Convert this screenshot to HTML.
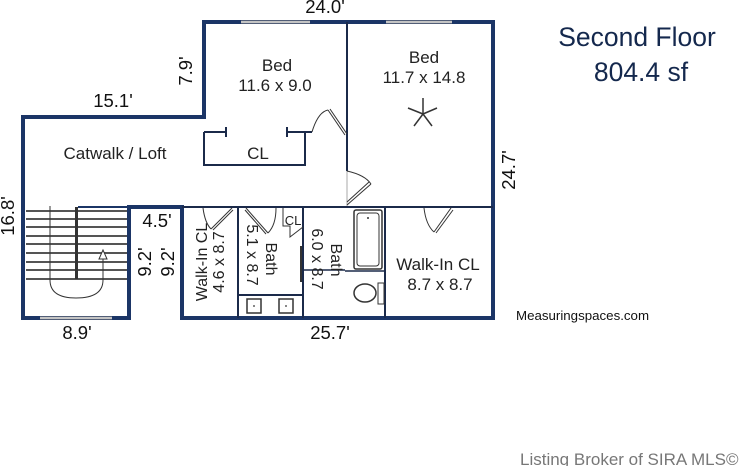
<!DOCTYPE html>
<html><head><meta charset="utf-8"><style>
html,body{margin:0;padding:0;background:#fff;}
svg{display:block;font-family:"Liberation Sans",Arial,sans-serif;}
</style></head><body>
<svg width="753" height="466" viewBox="0 0 753 466" xmlns="http://www.w3.org/2000/svg">
<rect width="753" height="466" fill="#fff"/>
<g fill="none" stroke="#1b3566" stroke-width="4" stroke-linecap="square">
<polyline points="204,117 204,22 493,22 493,318 182,318 182,207 129,207 129,318 23,318 23,117 204,117"/>
</g>
<g stroke="#888" stroke-width="3"><line x1="241" y1="22" x2="310" y2="22"/><line x1="386" y1="22" x2="452" y2="22"/><line x1="40" y1="318" x2="112" y2="318"/></g>
<g stroke="#fff" stroke-width="1"><line x1="241" y1="22" x2="310" y2="22"/><line x1="386" y1="22" x2="452" y2="22"/><line x1="40" y1="318" x2="112" y2="318"/></g>
<g fill="none" stroke="#1b2a4a" stroke-width="2">
<line x1="347" y1="22" x2="347" y2="171"/>
<line x1="347" y1="171" x2="347" y2="207" stroke="#aaa" stroke-width="1"/>
<line x1="182" y1="207" x2="493" y2="207"/>
<polyline points="204,132 226,132"/><line x1="226" y1="127" x2="226" y2="137"/>
<line x1="287" y1="132" x2="305" y2="132"/><line x1="287" y1="127" x2="287" y2="137"/>
<polyline points="204,132 204,165 305,165 305,132 312,132"/>
<line x1="238" y1="207" x2="238" y2="318"/>
<line x1="303" y1="207" x2="303" y2="318"/>
<line x1="385" y1="207" x2="385" y2="318"/>
<line x1="238" y1="295" x2="303" y2="295"/>
<line x1="385" y1="271" x2="345" y2="271" stroke-width="1.5"/>
<line x1="345" y1="270" x2="303" y2="270" stroke-width="1.5"/>
</g>
<g fill="none" stroke="#333" stroke-width="1">
<path d="M312,132 Q318,112 328,110"/><line x1="328" y1="110" x2="345" y2="135"/><line x1="330" y1="109" x2="347" y2="134"/>
<path d="M347,171 Q365,175 371,184"/><line x1="371" y1="184" x2="347" y2="205"/><line x1="369" y1="182" x2="347" y2="202"/>
<path d="M203,208 Q205,223 211,229"/><line x1="211" y1="229" x2="232" y2="208"/><line x1="213" y1="230" x2="233" y2="210"/>
<path d="M276,208 Q276,225 268,233"/><line x1="268" y1="233" x2="246" y2="208"/><line x1="266" y1="234" x2="245" y2="210"/>
<path d="M424,208 Q426,225 434,232"/><line x1="434" y1="232" x2="451" y2="208"/><line x1="436" y1="233" x2="453" y2="210"/>
<polyline points="283,208 283,226 290,226 290,237 303,227"/>
<line x1="301" y1="246" x2="301" y2="282" stroke-width="2"/>
<rect x="354" y="210" width="28" height="59" rx="2" stroke-width="1.5"/>
<rect x="357" y="213" width="22" height="53" rx="3"/>
<rect x="378" y="283" width="6" height="21"/>
<ellipse cx="365" cy="293" rx="11" ry="9" stroke-width="1.5"/>
<rect x="247" y="299" width="14" height="14" stroke-width="1.5"/>
<rect x="279" y="299" width="14" height="14" stroke-width="1.5"/>
</g>
<circle cx="254" cy="306" r="0.9" fill="#333"/><circle cx="286" cy="306" r="0.9" fill="#333"/>
<circle cx="368" cy="218" r="1" fill="#333"/>
<g stroke="#555" stroke-width="2">
<line x1="26" y1="211" x2="127" y2="211"/><line x1="26" y1="219" x2="127" y2="219"/><line x1="26" y1="227" x2="127" y2="227"/><line x1="26" y1="236" x2="127" y2="236"/><line x1="26" y1="244" x2="127" y2="244"/><line x1="26" y1="253" x2="127" y2="253"/><line x1="26" y1="262" x2="127" y2="262"/><line x1="26" y1="270" x2="127" y2="270"/><line x1="26" y1="279" x2="127" y2="279"/>
</g>
<rect x="75" y="207" width="3" height="72" fill="#333"/>
<line x1="78" y1="207" x2="129" y2="207" stroke="#1b3566" stroke-width="2"/>
<g fill="none" stroke="#333" stroke-width="1">
<path d="M50,206 L50,280 Q50,298 76,298 Q103,298 103,280 L103,252"/>
<polygon points="103,250 99,259 107,259" fill="#fff"/>
</g>
<g stroke="#333" stroke-width="1.5" fill="#fff">
<line x1="423" y1="114" x2="423" y2="98"/><line x1="423" y1="114" x2="408" y2="108"/><line x1="423" y1="114" x2="437" y2="108"/><line x1="423" y1="114" x2="414" y2="126"/><line x1="423" y1="114" x2="432" y2="126"/>
</g>
<g fill="#222" font-size="17" text-anchor="middle">
<text x="277" y="71">Bed</text><text x="275" y="91">11.6 x 9.0</text>
<text x="424" y="63">Bed</text><text x="424" y="83">11.7 x 14.8</text>
<text x="258" y="159">CL</text>
<text x="115" y="159">Catwalk / Loft</text>
<text x="438" y="270">Walk-In CL</text><text x="440" y="290">8.7 x 8.7</text>
<text x="293" y="225" font-size="13">CL</text>
<text transform="translate(207,262) rotate(-90)" font-size="16">Walk-In CL</text>
<text transform="translate(224,262) rotate(-90)" font-size="16">4.6 x 8.7</text>
<text transform="translate(247,255) rotate(90)" font-size="16">5.1 x 8.7</text>
<text transform="translate(266,259) rotate(90)" font-size="16">Bath</text>
<text transform="translate(312,259) rotate(90)" font-size="16">6.0 x 8.7</text>
<text transform="translate(331,260) rotate(90)" font-size="16">Bath</text>
</g>
<g fill="#111" font-size="18.5" text-anchor="middle">
<text x="325" y="13">24.0'</text>
<text x="113" y="107">15.1'</text>
<text transform="translate(192,71) rotate(-90)">7.9'</text>
<text transform="translate(515,170) rotate(-90)">24.7'</text>
<text transform="translate(14,216) rotate(-90)">16.8'</text>
<text x="157" y="227">4.5'</text>
<text transform="translate(151,262) rotate(-90)">9.2'</text>
<text transform="translate(174,262) rotate(-90)">9.2'</text>
<text x="77" y="339">8.9'</text>
<text x="330" y="339">25.7'</text>
</g>
<g fill="#14284d" font-size="26.5" text-anchor="middle">
<text x="637" y="46">Second Floor</text><text x="641" y="81">804.4 sf</text>
</g>
<text x="516" y="320" font-size="13.3" fill="#111">Measuringspaces.com</text>
<text x="520" y="465" font-size="17" fill="#777">Listing Broker of SIRA MLS©</text>
</svg>
</body></html>
